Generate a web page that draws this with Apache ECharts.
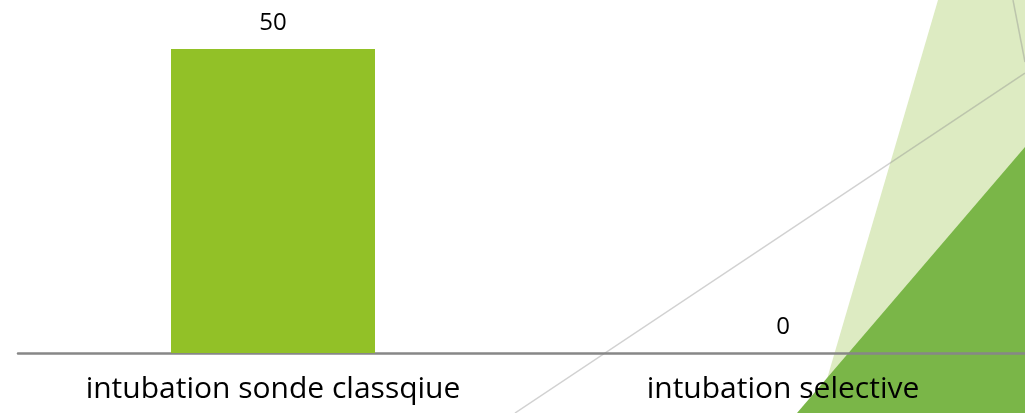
<!DOCTYPE html>
<html><head><meta charset="utf-8">
<script src="https://cdn.jsdelivr.net/npm/echarts@6/dist/echarts.min.js"></script>
<style>html,body{margin:0;padding:0;background:#fff}#c{width:1025px;height:413px}</style>
</head><body><div id="c"></div>
<script>
const categories = ["intubation sonde classqiue", "intubation selective"];
const values = [50, 0];
const yMin = 0, yMax = 50;

const chart = echarts.init(document.getElementById('c'));
chart.setOption({
  animation: false,
  backgroundColor: '#ffffff',
  grid: { left: 18, width: 1020, top: 49, bottom: 60, outerBoundsMode: 'none', containLabel: false },
  graphic: [
    { type: 'polygon', z: -10, silent: true,
      shape: { points: [[938,0],[1025,0],[1025,413],[817,413]] },
      style: { fill: '#DDEBC2' } },
    { type: 'polygon', z: -9, silent: true,
      shape: { points: [[1025,147],[1025,413],[797,413]] },
      style: { fill: '#7AB648' } },
    { type: 'line', z: -8, silent: true,
      shape: { x1: 515, y1: 413, x2: 1025, y2: 73 },
      style: { stroke: 'rgba(140,140,140,0.4)', lineWidth: 1.5 } },
    { type: 'line', z: -8, silent: true,
      shape: { x1: 1013, y1: 0, x2: 1025, y2: 62 },
      style: { stroke: 'rgba(140,140,140,0.4)', lineWidth: 1.5 } }
  ],
  xAxis: {
    type: 'category', data: categories,
    axisLine: { show: true, lineStyle: { color: '#878787', width: 2.5 } },
    axisTick: { show: false },
    axisLabel: { color: '#000', fontSize: 30, fontFamily: 'Open Sans', margin: 21, interval: 0 }
  },
  yAxis: { type: 'value', min: yMin, max: yMax, show: false, splitLine: { show: false } },
  series: [{
    type: 'bar', data: values, barCategoryGap: '60%',
    itemStyle: { color: '#92C127' },
    label: { show: true, position: 'top', distance: 14, color: '#000', fontSize: 24, fontFamily: 'Open Sans' }
  }]
});
</script></body></html>
